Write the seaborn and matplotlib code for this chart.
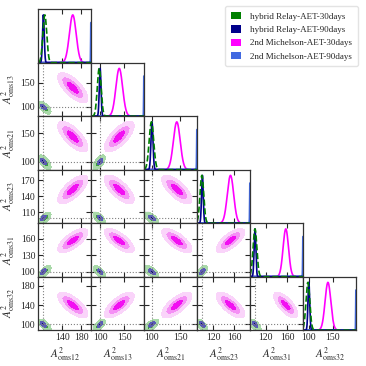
import numpy as np
import pandas as pd
import matplotlib
matplotlib.use("Agg")
import matplotlib.pyplot as plt
from matplotlib.patches import Patch
import seaborn as sns

# parameter names and axis ranges
params = ["oms12", "oms13", "oms21", "oms23", "oms31", "oms32"]
lo = [90, 81, 86, 90, 91, 88]
hi = [200, 192, 180, 190, 189, 199]
xticks = [[140, 180], [100, 150], [100, 150], [120, 160], [120, 160], [100, 150]]
yticks = [[], [100, 150], [100, 150], [110, 140, 170], [100, 130, 160], [100, 140, 180]]
true_val = 100

# posterior summaries (mean, sd) per run
relay30_mean = [104, 98, 99, 99, 100, 98]
relay30_sd = [4.0, 4.0, 4.0, 3.5, 3.5, 4.0]
relay90_mean = [101, 100, 100, 100, 100, 100]
relay90_sd = [1.8, 1.8, 1.8, 1.6, 1.6, 1.8]
mich30_mean = [162, 140, 144, 153, 157, 140]
mich30_sd = [7.0, 7.0, 6.0, 6.0, 5.0, 6.0]
mich90_mean = [200.3, 192.3, 180.3, 190.3, 189.3, 199.3]
mich90_sd = [0.5, 0.5, 0.5, 0.5, 0.5, 0.5]

# 2d spread relative to the 1d widths, and correlation signs (two link groups)
scale2d = 1.3
group = [0, 1, 1, 0, 0, 1]
corr_mich = 0.7
corr_relay = 0.6

colors = {
    "hybrid Relay-AET-30days": "green",
    "hybrid Relay-AET-90days": "#00008B",
    "2nd Michelson-AET-30days": "magenta",
    "2nd Michelson-AET-90days": "royalblue",
}

sns.set_style("ticks")
plt.rcParams["font.family"] = ["Liberation Serif", "DejaVu Serif"]
plt.rcParams["mathtext.fontset"] = "stix"
plt.rcParams["axes.edgecolor"] = "#333333"
plt.rcParams["axes.linewidth"] = 0.9

labels = [r"$A^2_{\rm %s}$" % p for p in params]
lev = [0, 2.3, 6.18, 11.8]


def curve(m, s, a, b):
    x = np.linspace(a, b, 400)
    return pd.DataFrame({"x": x, "y": np.exp(-0.5 * ((x - m) / s) ** 2)})


def fill2d(ax, mx, my, sx, sy, r, a, b, c, d, cols):
    X, Y = np.meshgrid(np.linspace(a, b, 250), np.linspace(c, d, 250))
    u = (X - mx) / (sx * scale2d)
    v = (Y - my) / (sy * scale2d)
    d2 = (u * u - 2 * r * u * v + v * v) / (1 - r * r)
    ax.contourf(X, Y, d2, levels=lev[:len(cols) + 1], colors=cols)


fig = plt.figure(figsize=(3.66, 3.66), dpi=100)
gs = fig.add_gridspec(6, 6, left=0.104, right=0.973, bottom=0.098, top=0.975,
                      hspace=0, wspace=0)
n = len(params)
for i in range(n):
    for j in range(i + 1):
        ax = fig.add_subplot(gs[i, j])
        if i == j:
            for m, s, c, ls, lw in [
                (mich30_mean[i], mich30_sd[i], colors["2nd Michelson-AET-30days"], "-", 1.2),
                (mich90_mean[i], mich90_sd[i], colors["2nd Michelson-AET-90days"], "-", 1.6),
                (relay90_mean[i], relay90_sd[i], colors["hybrid Relay-AET-90days"], "-", 1.2),
                (relay30_mean[i], relay30_sd[i], colors["hybrid Relay-AET-30days"], "--", 1.2),
            ]:
                df = curve(m, s, lo[i], hi[i])
                sns.lineplot(data=df, x="x", y="y", ax=ax, color=c, lw=lw,
                             linestyle=ls, legend=False)
            ax.set_ylim(0, 1.12)
            ax.set_yticks([])
        else:
            sgn = 1 if group[i] == group[j] else -1
            fill2d(ax, mich30_mean[j], mich30_mean[i], mich30_sd[j], mich30_sd[i],
                   sgn * corr_mich, lo[j], hi[j], lo[i], hi[i],
                   ["#f20ff2", "#f590f5", "#fad4fa"])
            fill2d(ax, relay30_mean[j], relay30_mean[i], relay30_sd[j], relay30_sd[i],
                   sgn * corr_relay, lo[j], hi[j], lo[i], hi[i],
                   ["#3f9f3f", "#a9d9a9"])
            fill2d(ax, relay90_mean[j], relay90_mean[i], relay90_sd[j], relay90_sd[i],
                   sgn * corr_relay, lo[j], hi[j], lo[i], hi[i],
                   ["#00007a", "#5a5ab8"])
            ax.axvline(true_val, color="grey", ls=":", lw=0.8)
            ax.axhline(true_val, color="grey", ls=":", lw=0.8)
            ax.set_ylim(lo[i], hi[i])
            ax.set_yticks(yticks[i])
        ax.set_xlim(lo[j], hi[j])
        ax.set_xticks(xticks[j])
        ax.tick_params(direction="in", top=True, right=True, length=3.5,
                       width=0.8, labelsize=7, pad=2)
        ax.set_xlabel("")
        ax.set_ylabel("")
        if i == n - 1:
            ax.set_xlabel(labels[j], fontsize=8, labelpad=3)
        else:
            ax.set_xticklabels([])
        if j == 0 and i > 0:
            ax.set_ylabel(labels[i], fontsize=8, labelpad=2)
        elif i != j:
            ax.set_yticklabels([])

handles = [Patch(facecolor=c, edgecolor="none", label=k) for k, c in colors.items()]
fig.legend(handles=handles, loc="upper right", bbox_to_anchor=(0.99, 0.995),
           fontsize=6.5, frameon=True, handlelength=1.2, handleheight=0.9,
           borderpad=0.6, labelspacing=0.5, handletextpad=1.0, edgecolor="#dddddd")

fig.savefig("out.png", dpi=100)
